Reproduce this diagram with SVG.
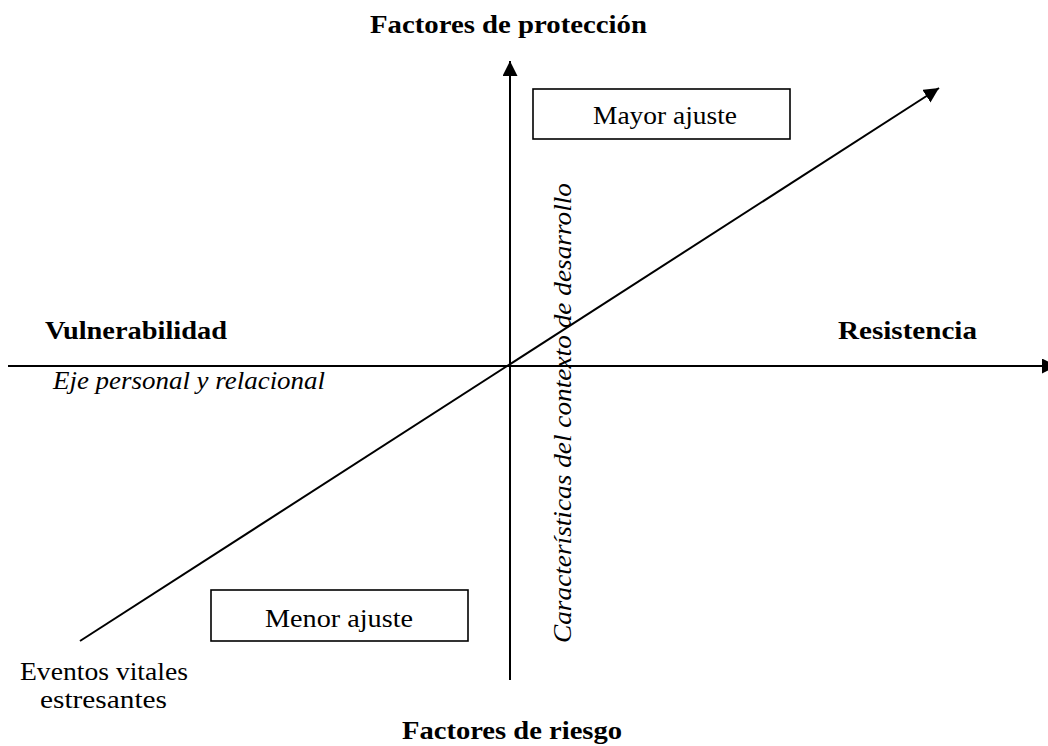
<svg xmlns="http://www.w3.org/2000/svg" width="1048" height="746" viewBox="0 0 1048 746">
<style>
.t{font-family:"Liberation Serif","DejaVu Serif",serif;font-size:25px;fill:#000}
.b{font-weight:bold;font-size:26px}
.i{font-style:italic}
.ax{stroke:#000;stroke-width:2;fill:none}
.box{fill:#fff;stroke:#000;stroke-width:1.6}
</style>
<defs>
<marker id="arr" markerUnits="userSpaceOnUse" markerWidth="16" markerHeight="16" refX="15" refY="7.5" orient="auto">
<path d="M0,0 L15,7.5 L0,15 z" fill="#000"/>
</marker>
</defs>
<rect width="1048" height="746" fill="#fff"/>
<g id="connectors">
<line class="ax" x1="510" y1="680" x2="510" y2="61" marker-end="url(#arr)"/>
<line class="ax" x1="8" y1="366" x2="1057" y2="366" marker-end="url(#arr)"/>
<line class="ax" x1="80" y1="641" x2="939" y2="88" marker-end="url(#arr)"/>
</g>
<g id="title-top"><text class="t b" x="370" y="33" textLength="277" lengthAdjust="spacingAndGlyphs">Factores de protección</text></g>
<g id="title-bottom"><text class="t b" x="402" y="739" textLength="220" lengthAdjust="spacingAndGlyphs">Factores de riesgo</text></g>
<g id="vulnerabilidad"><text class="t b" x="45" y="339" textLength="182" lengthAdjust="spacingAndGlyphs">Vulnerabilidad</text></g>
<g id="resistencia"><text class="t b" x="838" y="339" textLength="139" lengthAdjust="spacingAndGlyphs">Resistencia</text></g>
<g id="eje"><text class="t i" x="53" y="389" textLength="272" lengthAdjust="spacingAndGlyphs">Eje personal y relacional</text></g>
<g id="mayor">
<rect class="box" x="533" y="89" width="257" height="50"/>
<text class="t" x="593" y="124" textLength="144" lengthAdjust="spacingAndGlyphs">Mayor ajuste</text>
</g>
<g id="menor">
<rect class="box" x="211" y="590" width="257" height="51"/>
<text class="t" x="265" y="627" textLength="148" lengthAdjust="spacingAndGlyphs">Menor ajuste</text>
</g>
<g id="eventos">
<text class="t" x="20" y="680" textLength="168" lengthAdjust="spacingAndGlyphs">Eventos vitales</text>
<text class="t" x="40" y="708" textLength="127" lengthAdjust="spacingAndGlyphs">estresantes</text>
</g>
<g id="contexto"><text class="t i" transform="translate(571,643) rotate(-90)" x="0" y="0" textLength="460" lengthAdjust="spacingAndGlyphs">Características del contexto de desarrollo</text></g>
</svg>
